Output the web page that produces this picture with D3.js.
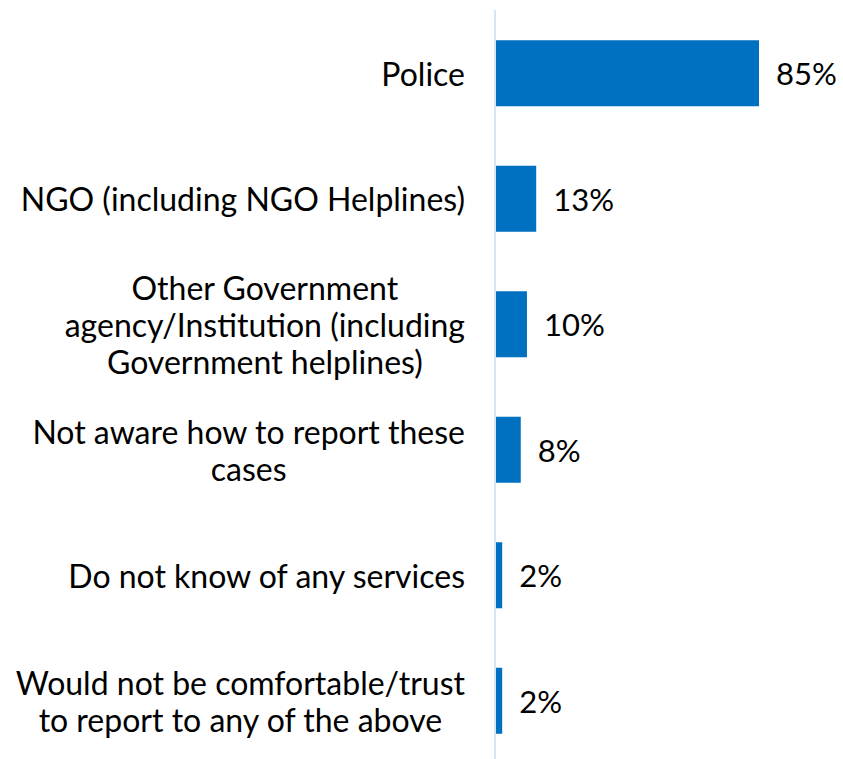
<!DOCTYPE html>
<html>
<head>
<meta charset="utf-8">
<script src="https://cdn.jsdelivr.net/npm/d3@7"></script>
<style>
  html, body { margin: 0; padding: 0; background: #fff; }
  svg { display: block; }
  text { font-family: Lato, "Open Sans", sans-serif; fill: #000; }
</style>
</head>
<body>
<svg id="chart" width="843" height="759"></svg>
<script>
// Reporting channels and share of respondents (%)
const categories = [
  ["Police"],
  ["NGO (including NGO Helplines)"],
  ["Other Government", "agency/Institution (including", "Government helplines)"],
  ["Not aware how to report these", "cases"],
  ["Do not know of any services"],
  ["Would not be comfortable/trust", "to report to any of the above"]
];
const values = [85, 13, 10, 8, 2, 2];

const W = 843, H = 759;
const labelSize = 32;
const valueSize = 31;
const lineH = 37;
const axisX = 496;
const labelRight = 465;

const svg = d3.select("#chart");

const keys = categories.map((c, i) => i);
const y = d3.scaleBand().domain(keys).range([10.5, 763.5]).paddingInner(0.474).paddingOuter(0.237);
const x = d3.scaleLinear().domain([0, 85]).range([axisX, 759]);

// bars
svg.append("g").selectAll("rect")
  .data(values)
  .join("rect")
  .attr("x", x(0))
  .attr("y", (d, i) => y(i))
  .attr("width", d => x(d) - x(0))
  .attr("height", y.bandwidth())
  .attr("fill", "#0070C0");

// vertical category axis line
svg.append("line")
  .attr("x1", axisX - 1).attr("x2", axisX - 1)
  .attr("y1", 10).attr("y2", H)
  .attr("stroke", "#D6E6F5")
  .attr("stroke-width", 2);

// category labels: lines centred within a right-aligned block
const lab = svg.append("g");
categories.forEach((lines, i) => {
  const g = lab.append("g");
  const cy = y(i) + y.bandwidth() / 2;
  const n = lines.length;
  const ts = lines.map((t, k) => g.append("text")
    .attr("font-size", labelSize)
    .attr("text-anchor", "middle")
    .attr("dominant-baseline", "central")
    .attr("y", cy + (k - (n - 1) / 2) * lineH)
    .text(t));
  const maxW = d3.max(ts, t => t.node().getComputedTextLength());
  ts.forEach(t => t.attr("x", labelRight - maxW / 2));
});

// value labels
svg.append("g").selectAll("text")
  .data(values)
  .join("text")
  .attr("font-size", valueSize)
  .attr("dominant-baseline", "central")
  .attr("x", d => x(d) + 17)
  .attr("y", (d, i) => y(i) + y.bandwidth() / 2)
  .text(d => d + "%");
</script>
</body>
</html>
